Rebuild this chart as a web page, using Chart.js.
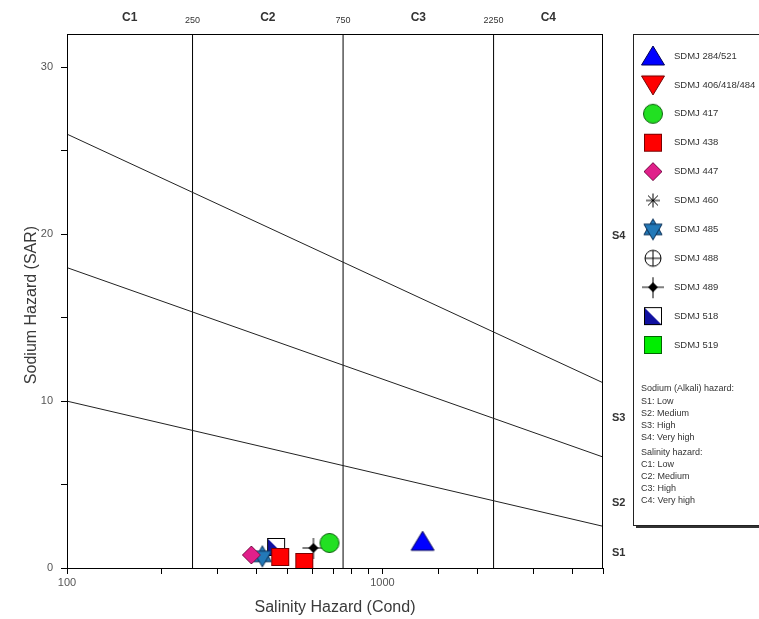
<!DOCTYPE html>
<html>
<head>
<meta charset="utf-8">
<script src="https://cdn.jsdelivr.net/npm/chart.js@4.4.1/dist/chart.umd.min.js"></script>
<style>
  html, body { margin: 0; padding: 0; background: #fff; }
  #wrap { width: 759px; height: 619px; }
</style>
</head>
<body>
<div id="wrap"><canvas id="c" width="759" height="619"></canvas></div>
<script>
// campioni (conducibilita / SAR)
const seriesNames = [
  "SDMJ 284/521", "SDMJ 406/418/484", "SDMJ 417", "SDMJ 438", "SDMJ 447",
  "SDMJ 460", "SDMJ 485", "SDMJ 488", "SDMJ 489", "SDMJ 518", "SDMJ 519"
];
const condValues = [[1340], [], [679], [474, 565], [384], [], [416], [], [604], [460], []];
const sarValues  = [[1.6],  [], [1.5], [0.66, 0.36], [0.78], [], [0.7], [], [1.2], [1.26], []];

// limiti delle classi
const salinityBounds = [250, 750, 2250];
const salinityClasses = ["C1", "C2", "C3", "C4"];
const boundaryCond = [100, 5000];
const sarLineLow = [10, 2.5];
const sarLineMid = [18, 6.65];
const sarLineHigh = [26, 11.1];
const sodiumLabels = ["S1", "S2", "S3", "S4"];
const sodiumLabelSar = [0.9, 3.9, 9.0, 19.9];
const hazardNotes = [
  "Sodium (Alkali) hazard:", "S1: Low", "S2: Medium", "S3: High", "S4: Very high",
  "Salinity hazard:", "C1: Low", "C2: Medium", "C3: High", "C4: Very high"
];

// simboli disegnati su canvas
function mk(draw) {
  const c = document.createElement("canvas");
  c.width = 26; c.height = 26;
  const g = c.getContext("2d");
  g.lineWidth = 1;
  draw(g);
  return c;
}
const symbols = [
  mk(g => { g.beginPath(); g.moveTo(13, 3); g.lineTo(24.5, 22); g.lineTo(1.5, 22); g.closePath();
    g.fillStyle = "#0000ff"; g.fill(); g.strokeStyle = "#000055"; g.stroke(); }),
  mk(g => { g.beginPath(); g.moveTo(1.5, 4); g.lineTo(24.5, 4); g.lineTo(13, 23); g.closePath();
    g.fillStyle = "#ff0000"; g.fill(); g.strokeStyle = "#700000"; g.stroke(); }),
  mk(g => { g.beginPath(); g.arc(13, 13, 9.5, 0, Math.PI * 2);
    g.fillStyle = "#22e022"; g.fill(); g.strokeStyle = "#106010"; g.stroke(); }),
  mk(g => { g.fillStyle = "#ff0000"; g.fillRect(4, 4, 18, 18);
    g.strokeStyle = "#7a0000"; g.strokeRect(4.5, 4.5, 17, 17); }),
  mk(g => { g.beginPath(); g.moveTo(13, 4); g.lineTo(22, 13); g.lineTo(13, 22); g.lineTo(4, 13); g.closePath();
    g.fillStyle = "#e0208a"; g.fill(); g.strokeStyle = "#7a1048"; g.stroke(); }),
  mk(g => { g.strokeStyle = "#000"; g.beginPath();
    for (let k = 0; k < 4; k++) { const a = k * Math.PI / 4;
      g.moveTo(13 - 7 * Math.cos(a), 13 - 7 * Math.sin(a)); g.lineTo(13 + 7 * Math.cos(a), 13 + 7 * Math.sin(a)); }
    g.stroke(); }),
  mk(g => { g.fillStyle = "#2379b8"; g.strokeStyle = "#0b2f55";
    [[-Math.PI / 2], [Math.PI / 2]].forEach(([a0]) => {
      g.beginPath();
      for (let k = 0; k < 3; k++) { const a = a0 + k * 2 * Math.PI / 3;
        g[k ? "lineTo" : "moveTo"](13 + 10.5 * Math.cos(a), 13 + 10.5 * Math.sin(a)); }
      g.closePath(); g.fill(); g.stroke();
    }); }),
  mk(g => { g.beginPath(); g.arc(13, 13, 8, 0, Math.PI * 2);
    g.fillStyle = "#fff"; g.fill(); g.strokeStyle = "#000"; g.stroke();
    g.beginPath(); g.moveTo(5, 13); g.lineTo(21, 13); g.moveTo(13, 5); g.lineTo(13, 21); g.stroke(); }),
  mk(g => { g.strokeStyle = "#000"; g.beginPath(); g.moveTo(2, 13); g.lineTo(24, 13);
    g.moveTo(13, 3); g.lineTo(13, 24); g.stroke();
    g.beginPath(); g.moveTo(13, 8); g.lineTo(18, 13); g.lineTo(13, 18); g.lineTo(8, 13); g.closePath();
    g.fillStyle = "#000"; g.fill(); }),
  mk(g => { g.fillStyle = "#fff"; g.fillRect(4, 4, 18, 18);
    g.beginPath(); g.moveTo(4, 4); g.lineTo(22, 22); g.lineTo(4, 22); g.closePath();
    g.fillStyle = "#1010a0"; g.fill(); g.strokeStyle = "#000"; g.strokeRect(4.5, 4.5, 17, 17); }),
  mk(g => { g.fillStyle = "#00ee00"; g.fillRect(4, 4, 18, 18);
    g.strokeStyle = "#006600"; g.strokeRect(4.5, 4.5, 17, 17); })
];

const datasets = seriesNames.map((name, i) => ({
  label: name,
  data: condValues[i].map((x, j) => ({ x: x, y: sarValues[i][j] })),
  pointStyle: symbols[i],
  showLine: false,
  order: i
}));
[sarLineLow, sarLineMid, sarLineHigh].forEach(line => {
  datasets.push({
    label: "", type: "line",
    data: boundaryCond.map((x, j) => ({ x: x, y: line[j] })),
    borderColor: "#222", borderWidth: 1, pointRadius: 0, order: 50
  });
});
salinityBounds.forEach(b => {
  datasets.push({
    label: "", type: "line",
    data: [{ x: b, y: 0 }, { x: b, y: 32 }],
    borderColor: "#000", borderWidth: 1, pointRadius: 0, order: 50
  });
});

const FONT = "Arial, 'Liberation Sans', sans-serif";

const decor = {
  id: "decor",
  afterDraw(chart) {
    const { ctx, chartArea: a, scales: { x, y } } = chart;
    ctx.save();
    ctx.strokeStyle = "#000"; ctx.lineWidth = 1;
    ctx.strokeRect(a.left + 0.5, a.top + 0.5, a.right - a.left - 1, a.bottom - a.top);

    // etichette classi in alto
    ctx.fillStyle = "#333"; ctx.textAlign = "center"; ctx.textBaseline = "middle";
    const edges = [x.min].concat(salinityBounds, [x.max]);
    ctx.font = "bold 12px " + FONT;
    salinityClasses.forEach((c, i) => {
      const px = (x.getPixelForValue(edges[i]) + x.getPixelForValue(edges[i + 1])) / 2;
      ctx.fillText(c, px, 18);
    });
    ctx.font = "9px " + FONT;
    salinityBounds.forEach(b => ctx.fillText(String(b), x.getPixelForValue(b), 21));

    // etichette sodio a destra
    ctx.font = "bold 11px " + FONT; ctx.textAlign = "left";
    sodiumLabels.forEach((s, i) => ctx.fillText(s, a.right + 9, y.getPixelForValue(sodiumLabelSar[i])));

    // titoli assi
    ctx.font = "16px " + FONT; ctx.fillStyle = "#3a3a3a"; ctx.textAlign = "center";
    ctx.fillText("Salinity Hazard (Cond)", (a.left + a.right) / 2, 608);
    ctx.save(); ctx.translate(32, (a.top + a.bottom) / 2 + 4); ctx.rotate(-Math.PI / 2);
    ctx.fillText("Sodium Hazard (SAR)", 0, 0); ctx.restore();

    // legenda
    const L = 633, T = 34, W = 126, H = 491;
    ctx.fillStyle = "#333"; ctx.fillRect(L + 3, T + H, W, 3);
    ctx.fillStyle = "#fff"; ctx.fillRect(L, T, W, H);
    ctx.strokeStyle = "#222"; ctx.strokeRect(L + 0.5, T + 0.5, W, H);
    ctx.font = "9.5px " + FONT; ctx.textAlign = "left"; ctx.fillStyle = "#333";
    seriesNames.forEach((n, i) => {
      const yy = 56 + i * 28.9;
      ctx.drawImage(symbols[i], 653 - 13, yy - 13);
      ctx.fillText(n, 674, yy);
    });
    ctx.font = "9px " + FONT;
    hazardNotes.forEach((t, i) => {
      const yy = 389 + i * 12.1 + (i >= 5 ? 3 : 0);
      ctx.fillText(t, 641, yy);
    });
    ctx.restore();
  }
};

new Chart(document.getElementById("c"), {
  type: "scatter",
  data: { datasets: datasets },
  options: {
    responsive: false,
    animation: false,
    layout: { padding: { top: 34, right: 156, left: 0, bottom: 0 } },
    plugins: { legend: { display: false }, tooltip: { enabled: false } },
    elements: { line: { tension: 0 } },
    scales: {
      x: {
        type: "logarithmic", min: 100, max: 5000,
        afterFit: s => { s.height = 51; },
        grid: { drawOnChartArea: false, drawTicks: true, tickLength: 6, color: "#000" },
        border: { display: true, color: "#000" },
        ticks: {
          autoSkip: false, maxRotation: 0, color: "#555", padding: 2,
          font: { size: 11, family: FONT },
          callback: v => (v === 100 || v === 1000) ? String(v) : ""
        }
      },
      y: {
        min: 0, max: 32,
        afterFit: s => { s.width = 67; },
        afterBuildTicks: s => { s.ticks = [0, 5, 10, 15, 20, 25, 30].map(v => ({ value: v })); },
        grid: { drawOnChartArea: false, drawTicks: true, tickLength: 6, color: "#000" },
        border: { display: true, color: "#000" },
        ticks: {
          color: "#555", padding: 8, font: { size: 11, family: FONT },
          callback: v => (v % 10 === 0) ? String(v) : ""
        }
      }
    }
  },
  plugins: [decor]
});
</script>
</body>
</html>
